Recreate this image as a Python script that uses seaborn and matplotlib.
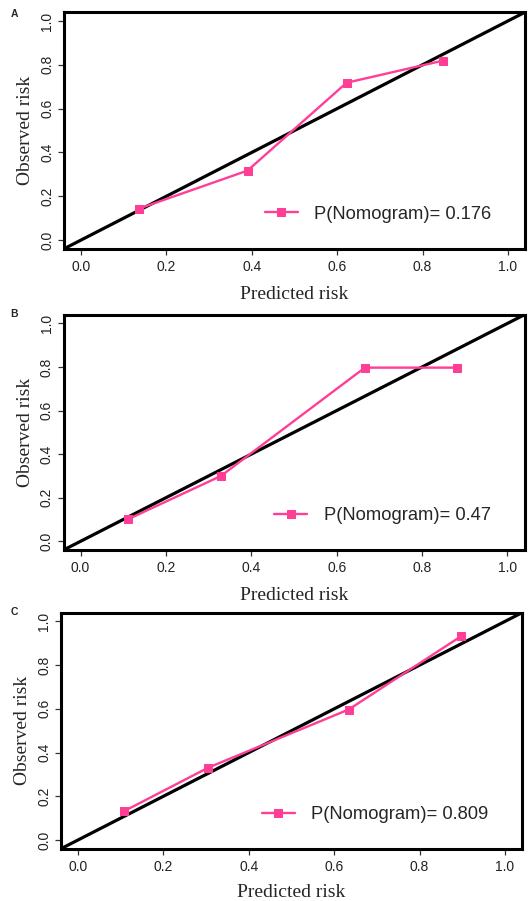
import matplotlib
matplotlib.use("Agg")
import matplotlib.pyplot as plt
import seaborn as sns
import pandas as pd

sns.set_theme(style="white")
plt.rcParams['font.family'] = ['Liberation Sans', 'DejaVu Sans']

# ---- data ----
panel_labels = ["A", "B", "C"]
pred_A = [0.135, 0.39, 0.622, 0.848]
obs_A = [0.143, 0.317, 0.718, 0.819]
pred_B = [0.111, 0.329, 0.666, 0.882]
obs_B = [0.101, 0.300, 0.797, 0.797]
pred_C = [0.108, 0.305, 0.634, 0.897]
obs_C = [0.132, 0.331, 0.597, 0.932]
p_values = ["0.176", "0.47", "0.809"]
x_ticks = [0.0, 0.2, 0.4, 0.6, 0.8, 1.0]
y_ticks = [0.0, 0.2, 0.4, 0.6, 0.8, 1.0]

pink = "#FF3E96"

fig = plt.figure(figsize=(5.28, 9.01), dpi=100)
W, H = 528, 901
# axes boxes in pixels: left, top, right, bottom
boxes = [(64, 12.2, 525, 248.8), (63.5, 314.7, 524.5, 550), (61, 612.7, 522, 848.7)]
leg_pos = [(0.436, 0.147), (0.457, 0.146), (0.436, 0.143)]
letter_pos = [(14, 14), (14, 314), (14, 612)]
xlab_pad = [8.5, 8.5, 7]

series = [(pred_A, obs_A), (pred_B, obs_B), (pred_C, obs_C)]

for i, (l, t, r, b) in enumerate(boxes):
    ax = fig.add_axes([l / W, 1 - b / H, (r - l) / W, (b - t) / H])
    px, oy = series[i]
    df = pd.DataFrame({"pred": px, "obs": oy})
    ax.axline((0, 0), (1, 1), color="black", lw=2.3, zorder=2)
    sns.lineplot(data=df, x="pred", y="obs", sort=False, ax=ax, color=pink,
                 lw=1.7, marker="s", markersize=6.3, markeredgecolor=pink,
                 label=f"P(Nomogram)= {p_values[i]}", zorder=3)
    ax.set_xlim(-0.04, 1.04)
    ax.set_ylim(-0.04, 1.04)
    ax.set_xticks(x_ticks)
    ax.set_yticks(y_ticks)
    ax.set_xticklabels([f"{v:.1f}" for v in x_ticks], fontsize=10, color="#222222")
    ax.set_yticklabels([f"{v:.1f}" for v in y_ticks], fontsize=10, color="#222222",
                       rotation=90, va="center")
    ax.tick_params(axis="both", direction="out", length=4, width=0.9, color="#333333",
                   bottom=True, left=True)
    ax.tick_params(axis="x", pad=4)
    ax.tick_params(axis="y", pad=3)
    for sp in ax.spines.values():
        sp.set_linewidth(2.2)
        sp.set_color("black")
    ax.set_xlabel("Predicted risk", family="Liberation Serif", fontsize=14,
                  labelpad=xlab_pad[i])
    ax.set_ylabel("Observed risk", family="Liberation Serif", fontsize=14, labelpad=4.5)
    leg = ax.legend(loc="center left", bbox_to_anchor=leg_pos[i], frameon=False,
                    fontsize=13.2, handlelength=1.8, handletextpad=0.9,
                    borderpad=0, borderaxespad=0)
    fig.text(letter_pos[i][0] / W, 1 - letter_pos[i][1] / H, panel_labels[i],
             fontsize=7.5, fontweight="bold", ha="center", va="center")

fig.savefig("out.png", dpi=100)
